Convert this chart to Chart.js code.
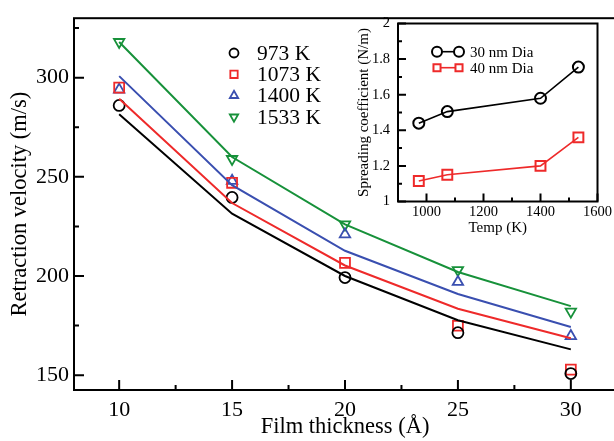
<!DOCTYPE html>
<html>
<head>
<meta charset="utf-8">
<script src="https://cdn.jsdelivr.net/npm/chart.js@4.4.1/dist/chart.umd.min.js"></script>
<style>
  html, body { margin: 0; padding: 0; background: #fff; overflow: hidden; }
  #wrap { position: relative; width: 614px; height: 441px; overflow: hidden; }
  #wrap canvas { position: absolute; left: 0; top: 0; }
</style>
</head>
<body>
<div id="wrap">
  <canvas id="mainChart" width="616" height="441"></canvas>
  <canvas id="insetChart" width="614" height="441"></canvas>
</div>
<script>
// ---- Data: retraction velocity vs film thickness ----
const thickness = [10, 15, 20, 25, 30];
const tempLabels = ['973 K', '1073 K', '1400 K', '1533 K'];
const v973 = [286, 239.6, 199.2, 171.4, 150.8];
const v1073 = [295, 247, 206.6, 174.9, 152.8];
const v1400 = [294, 248, 221, 197, 169.7];
const v1533 = [318, 259, 226, 203, 182];
const fit973 = [281.5, 231.4, 200, 177.7, 163];
const fit1073 = [289.4, 236.8, 205.3, 183.5, 168.6];
const fit1400 = [300.8, 245.8, 212.7, 190.9, 174.3];
const fit1533 = [318, 260, 226, 202, 184.8];
const mainXTicks = [10, 15, 20, 25, 30];
const mainXMinor = [12.5, 17.5, 22.5, 27.5];
const mainYTicks = [150, 200, 250, 300];
const mainYMinor = [175, 225, 275, 325];

// ---- Data: inset, spreading coefficient vs temperature ----
const insetTemp = [973, 1073, 1400, 1533];
const diaLabels = ['30 nm Dia', '40 nm Dia'];
const dia30 = [1.44, 1.505, 1.58, 1.755];
const dia40 = [1.115, 1.15, 1.2, 1.36];
const insetXTicks = [1000, 1200, 1400, 1600];
const insetXMinor = [1100, 1300, 1500];
const insetYTicks = [1, 1.2, 1.4, 1.6, 1.8, 2];
const insetYMinor = [1.1, 1.3, 1.5, 1.7, 1.9];

const colors = ['#000000', '#ee2a2a', '#3a4fb0', '#17913a'];
const serif = "'Liberation Serif', 'Times New Roman', serif";

const pts = (xs, ys) => xs.map((x, i) => ({ x: x, y: ys[i] }));

// frame + inward ticks (xmgrace style)
const frameTicks = {
  id: 'frameTicks',
  afterDatasetsDraw(chart, args, o) {
    const { ctx, chartArea: a, scales: { x, y } } = chart;
    ctx.save();
    ctx.strokeStyle = '#000';
    ctx.lineWidth = o.lineWidth;
    ctx.strokeRect(a.left, a.top, a.right - a.left, a.bottom - a.top);
    ctx.beginPath();
    o.xMajor.forEach(v => { const p = x.getPixelForValue(v); ctx.moveTo(p, a.bottom); ctx.lineTo(p, a.bottom - o.major); });
    o.xMinor.forEach(v => { const p = x.getPixelForValue(v); ctx.moveTo(p, a.bottom); ctx.lineTo(p, a.bottom - o.minor); });
    o.yMajor.forEach(v => { const p = y.getPixelForValue(v); ctx.moveTo(a.left, p); ctx.lineTo(a.left + o.major, p); });
    o.yMinor.forEach(v => { const p = y.getPixelForValue(v); ctx.moveTo(a.left, p); ctx.lineTo(a.left + o.minor, p); });
    ctx.stroke();
    ctx.restore();
  }
};

// legend drawn at a fixed spot inside the plot
const placedLegend = {
  id: 'placedLegend',
  afterDraw(chart, args, o) {
    const ctx = chart.ctx;
    ctx.save();
    ctx.font = o.font;
    ctx.textBaseline = 'middle';
    ctx.textAlign = 'left';
    let row = 0;
    chart.data.datasets.forEach(ds => {
      if (!ds.inLegend) return;
      const yy = o.y + row * o.rowGap;
      ctx.strokeStyle = ds.borderColor;
      ctx.lineWidth = ds.pointBorderWidth;
      const mk = { pointStyle: ds.pointStyle, rotation: ds.pointRotation || 0, radius: o.radius(ds), borderWidth: ds.pointBorderWidth };
      if (o.lineLen) {
        ctx.lineWidth = ds.borderWidth;
        ctx.beginPath();
        ctx.moveTo(o.x, yy);
        ctx.lineTo(o.x + o.lineLen, yy);
        ctx.stroke();
        ctx.lineWidth = ds.pointBorderWidth;
        ctx.fillStyle = '#fff';
        Chart.helpers.drawPoint(ctx, mk, o.x, yy);
        Chart.helpers.drawPoint(ctx, mk, o.x + o.lineLen, yy);
      } else {
        ctx.fillStyle = 'rgba(0,0,0,0)';
        Chart.helpers.drawPoint(ctx, mk, o.x, yy);
      }
      ctx.fillStyle = '#000';
      ctx.fillText(ds.label, o.textX, yy + 1);
      row++;
    });
    ctx.restore();
  }
};

// ---- Main chart ----
const markerStyles = [
  { pointStyle: 'circle', r: 5.5, rot: 0, lr: 4.5 },
  { pointStyle: 'rect', r: 7, rot: 0, lr: 5.2 },
  { pointStyle: 'triangle', r: 6, rot: 0, lr: 4.8 },
  { pointStyle: 'triangle', r: 6, rot: 180, lr: 4.8 }
];
const markerSeries = [v973, v1073, v1400, v1533];
const fitSeries = [fit973, fit1073, fit1400, fit1533];

const mainSets = [];
fitSeries.forEach((s, i) => {
  mainSets.push({
    label: tempLabels[i] + ' fit',
    data: pts(thickness, s),
    showLine: true,
    borderColor: colors[i],
    borderWidth: 2,
    pointRadius: 0,
    tension: 0
  });
});
markerSeries.forEach((s, i) => {
  const m = markerStyles[i];
  mainSets.push({
    label: tempLabels[i],
    inLegend: true,
    legendRadius: m.lr,
    data: pts(thickness, s),
    showLine: false,
    borderColor: colors[i],
    backgroundColor: 'rgba(0,0,0,0)',
    pointStyle: m.pointStyle,
    pointRotation: m.rot,
    pointRadius: m.r,
    pointBorderWidth: 1.8
  });
});

new Chart(document.getElementById('mainChart'), {
  type: 'scatter',
  data: { datasets: mainSets },
  options: {
    responsive: false,
    animation: false,
    layout: { autoPadding: false, padding: { left: 3, top: 13, right: 0, bottom: 0 } },
    scales: {
      x: {
        type: 'linear', min: 8, max: 32,
        grid: { display: false, drawTicks: false }, border: { display: false },
        afterBuildTicks: s => { s.ticks = mainXTicks.map(v => ({ value: v })); },
        afterFit: s => { s.height = 51; },
        ticks: { color: '#000', padding: 7, font: { family: serif, size: 22 }, callback: v => String(v) },
        title: { display: true, text: 'Film thickness (Å)', color: '#000', padding: { top: 0, bottom: 0 }, font: { family: serif, size: 22.5 } }
      },
      y: {
        type: 'linear', min: 142.5, max: 330,
        grid: { display: false, drawTicks: false }, border: { display: false },
        afterBuildTicks: s => { s.ticks = mainYTicks.map(v => ({ value: v })); },
        afterFit: s => { s.width = 71; },
        ticks: { color: '#000', padding: 5, font: { family: serif, size: 22 }, callback: v => String(v) },
        title: { display: true, text: 'Retraction velocity (m/s)', color: '#000', padding: { top: 4, bottom: 0 }, font: { family: serif, size: 22.5 } }
      }
    },
    plugins: {
      legend: { display: false },
      tooltip: { enabled: false },
      frameTicks: { lineWidth: 2, major: 10, minor: 5, xMajor: mainXTicks, xMinor: mainXMinor, yMajor: mainYTicks, yMinor: mainYMinor },
      placedLegend: { x: 234, y: 53, rowGap: 21.3, textX: 257, font: '21.5px ' + serif, radius: ds => ds.legendRadius }
    }
  },
  plugins: [frameTicks, placedLegend]
});

// ---- Inset chart ----
new Chart(document.getElementById('insetChart'), {
  type: 'scatter',
  data: {
    datasets: [
      {
        label: diaLabels[0], inLegend: true, data: pts(insetTemp, dia30), showLine: true,
        borderColor: colors[0], borderWidth: 1.6, backgroundColor: 'rgba(0,0,0,0)',
        pointStyle: 'circle', pointRadius: 5.5, pointBorderWidth: 2
      },
      {
        label: diaLabels[1], inLegend: true, data: pts(insetTemp, dia40), showLine: true,
        borderColor: colors[1], borderWidth: 1.6, backgroundColor: 'rgba(0,0,0,0)',
        pointStyle: 'rect', pointRadius: 7, pointBorderWidth: 2
      }
    ]
  },
  options: {
    responsive: false,
    animation: false,
    layout: { autoPadding: false, padding: { left: 351, top: 23.5, right: 16, bottom: 199.5 } },
    scales: {
      x: {
        type: 'linear', min: 900, max: 1600,
        grid: { display: false, drawTicks: false }, border: { display: false },
        afterBuildTicks: s => { s.ticks = insetXTicks.map(v => ({ value: v })); },
        afterFit: s => { s.height = 40; },
        ticks: { color: '#000', padding: 2, font: { family: serif, size: 14.5 }, callback: v => String(v) },
        title: { display: true, text: 'Temp (K)', color: '#000', padding: { top: 0, bottom: 4 }, font: { family: serif, size: 15 } }
      },
      y: {
        type: 'linear', min: 1, max: 2,
        grid: { display: false, drawTicks: false }, border: { display: false },
        afterBuildTicks: s => { s.ticks = insetYTicks.map(v => ({ value: v })); },
        afterFit: s => { s.width = 47; },
        ticks: { color: '#000', padding: 8, font: { family: serif, size: 14.5 }, callback: v => String(v) },
        title: { display: true, text: 'Spreading coefficient (N/m)', color: '#000', padding: { top: 4, bottom: 0 }, font: { family: serif, size: 15 } }
      }
    },
    plugins: {
      legend: { display: false },
      tooltip: { enabled: false },
      frameTicks: { lineWidth: 2, major: 8, minor: 4, xMajor: insetXTicks, xMinor: insetXMinor, yMajor: insetYTicks, yMinor: insetYMinor },
      placedLegend: { x: 437, y: 51.7, rowGap: 16, lineLen: 22, textX: 470, font: '15px ' + serif, radius: ds => 5 }
    }
  },
  plugins: [frameTicks, placedLegend]
});
</script>
</body>
</html>
